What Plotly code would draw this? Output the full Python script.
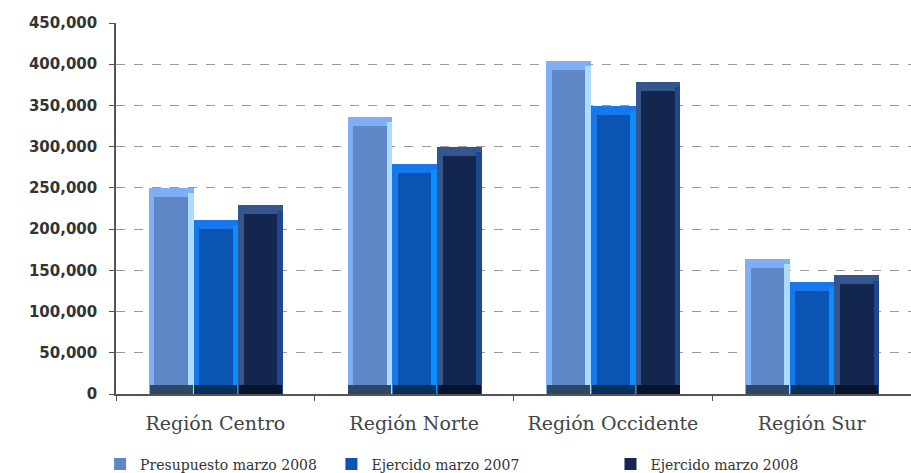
import plotly.graph_objects as go

# Budget vs. spending by region (March figures)
regiones = ["Región Centro", "Región Norte", "Región Occidente", "Región Sur"]
presupuesto_2008 = [250000, 336000, 404000, 164000]
ejercido_2007 = [211000, 279000, 349500, 136000]
ejercido_2008 = [229000, 300000, 378500, 144000]
y_ticks = [0, 50000, 100000, 150000, 200000, 250000, 300000, 350000, 400000, 450000]

series = [
    ("Presupuesto marzo 2008", presupuesto_2008,
     dict(edge="#7eaef4", right="#abdcff", face="#5f86c6", bottom="#2d4862"), "legend"),
    ("Ejercido marzo 2007", ejercido_2007,
     dict(edge="#1877ea", right="#0b8cff", face="#0a54b3", bottom="#05305a"), "legend2"),
    ("Ejercido marzo 2008", ejercido_2008,
     dict(edge="#35568c", right="#1f4791", face="#13264e", bottom="#08142e"), "legend3"),
]

BAR_W = 0.225
EDGE = 0.028          # width of the side bevels, in category units
BEVEL = 11000         # height of the top / bottom bevels, in data units

fig = go.Figure()
for i, (name, vals, c, leg) in enumerate(series):
    off = -0.335 + i * BAR_W
    # outer body (left side + top bevel)
    fig.add_trace(go.Bar(x=regiones, y=vals, offset=off, width=BAR_W,
                         marker=dict(color=c["edge"], line=dict(width=0)),
                         name=name, legend=leg, showlegend=False, hoverinfo="skip"))
    # right-hand highlight
    fig.add_trace(go.Bar(x=regiones, y=[v - BEVEL * 0.6 for v in vals],
                         offset=off + BAR_W - EDGE, width=EDGE,
                         marker=dict(color=c["right"], line=dict(width=0)),
                         showlegend=False, hoverinfo="skip"))
    # dark bottom bevel
    fig.add_trace(go.Bar(x=regiones, y=[BEVEL] * len(vals), offset=off + 0.004, width=BAR_W - 0.008,
                         marker=dict(color=c["bottom"], line=dict(width=0)),
                         showlegend=False, hoverinfo="skip"))
    # front face
    fig.add_trace(go.Bar(x=regiones, y=[v - 2 * BEVEL for v in vals], base=BEVEL,
                         offset=off + EDGE, width=BAR_W - 2 * EDGE,
                         marker=dict(color=c["face"], line=dict(width=0)),
                         name=name, legend=leg, showlegend=True, hoverinfo="y+name"))

legend_common = dict(orientation="h", yanchor="middle", y=-0.19, xanchor="left",
                     font=dict(family="DejaVu Serif", size=14, color="#333333"),
                     bgcolor="rgba(0,0,0,0)", itemwidth=30)

fig.update_layout(
    width=911, height=473,
    margin=dict(l=116, r=0, t=23, b=79, autoexpand=False),
    paper_bgcolor="white", plot_bgcolor="white",
    barmode="overlay", bargap=0,
    showlegend=True,
    legend=dict(x=-0.02, **legend_common),
    legend2=dict(x=0.271, **legend_common),
    legend3=dict(x=0.622, **legend_common),
    xaxis=dict(
        type="category", range=[-0.5, 3.5], automargin=False,
        showline=True, linecolor="#555555", linewidth=1.5,
        ticks="outside", tickson="boundaries", ticklen=5, tickcolor="#555555",
        showgrid=False,
        tickfont=dict(family="DejaVu Serif", size=19, color="#444444"),
        ticklabelstandoff=11,
    ),
    yaxis=dict(
        range=[0, 450000], tickvals=y_ticks, automargin=False,
        tickformat=",d",
        showline=True, linecolor="#555555", linewidth=1.5,
        ticks="outside", ticklen=5, tickcolor="#555555",
        showgrid=True, gridcolor="#9a9a9a", gridwidth=1, griddash="dash",
        zeroline=False,
        tickfont=dict(family="DejaVu Sans", size=15, color="#333333", weight="bold"),
        ticklabelstandoff=9,
    ),
)

fig.write_html("out.html")
